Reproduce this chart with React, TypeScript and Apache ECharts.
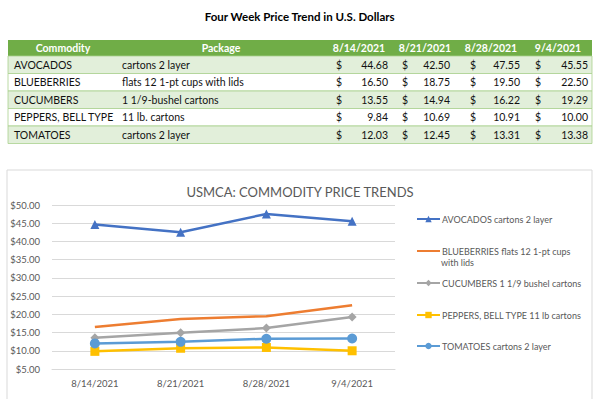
import React, { useEffect, useRef } from "react";
import * as echarts from "echarts";

const dates = ["8/14/2021", "8/21/2021", "8/28/2021", "9/4/2021"];
const commodities = ["AVOCADOS", "BLUEBERRIES", "CUCUMBERS", "PEPPERS, BELL TYPE", "TOMATOES"];
const packages = ["cartons 2 layer", "flats 12 1-pt cups with lids", "1 1/9-bushel cartons", "11 lb. cartons", "cartons 2 layer"];
const seriesNames = [
  "AVOCADOS cartons 2 layer",
  "BLUEBERRIES flats 12 1-pt cups with lids",
  "CUCUMBERS 1 1/9 bushel cartons",
  "PEPPERS, BELL TYPE 11 lb cartons",
  "TOMATOES cartons 2 layer",
];
const avocados = [44.68, 42.5, 47.55, 45.55];
const blueberries = [16.5, 18.75, 19.5, 22.5];
const cucumbers = [13.55, 14.94, 16.22, 19.29];
const peppers = [9.84, 10.69, 10.91, 10.0];
const tomatoes = [12.03, 12.45, 13.31, 13.38];
const values = [avocados, blueberries, cucumbers, peppers, tomatoes];

const colors = ["#4472C4", "#ED7D31", "#A5A5A5", "#FFC000", "#5B9BD5"];
const symbols = ["triangle", "none", "diamond", "rect", "circle"];
const symbolSizes = [9, 0, 9, 9, 10];
const legendTops = [219, 251, 283, 315, 346];

const FONT = "Lato, 'Open Sans', sans-serif";

export default function App() {
  const ref = useRef<HTMLDivElement>(null);
  useEffect(() => {
    if (!ref.current) return;
    const chart = echarts.init(ref.current, null, { renderer: "svg" });

    const g: any[] = [];
    g.push({
      type: "text",
      left: "center",
      top: 10,
      style: { text: "Four Week Price Trend in U.S. Dollars", font: `bold 11.5px ${FONT}`, fill: "#000" },
    });
    const tx0 = 8, tx1 = 592, hTop = 40, hBot = 56, rowH = 17.5;
    g.push({ type: "rect", shape: { x: tx0, y: hTop, width: tx1 - tx0, height: hBot - hTop }, style: { fill: "#70AD47" } });
    const dollarX = [339, 405, 473, 538];
    const valRightX = [388, 450, 520, 588];
    const dateCX = [359, 425, 491, 558];
    const hy = (hTop + hBot) / 2;
    g.push({ type: "text", x: 63, y: hy, style: { text: "Commodity", font: `bold 10.5px ${FONT}`, fill: "#fff", align: "center", verticalAlign: "middle" } });
    g.push({ type: "text", x: 221, y: hy, style: { text: "Package", font: `bold 10.5px ${FONT}`, fill: "#fff", align: "center", verticalAlign: "middle" } });
    dates.forEach((d, j) => {
      g.push({ type: "text", x: dateCX[j], y: hy, style: { text: d, font: `bold 10.5px ${FONT}`, fill: "#fff", align: "center", verticalAlign: "middle" } });
    });
    commodities.forEach((c, i) => {
      const top = hBot + i * rowH;
      const cy = top + rowH / 2;
      g.push({
        type: "rect",
        shape: { x: tx0, y: top, width: tx1 - tx0, height: rowH },
        style: { fill: i % 2 === 0 ? "#E2EFDA" : "#FFFFFF", stroke: "#A9D08E", lineWidth: 0.8 },
      });
      g.push({ type: "text", x: 14, y: cy, style: { text: c, font: `10.5px ${FONT}`, fill: "#111", verticalAlign: "middle" } });
      g.push({ type: "text", x: 122, y: cy, style: { text: packages[i], font: `10.5px ${FONT}`, fill: "#111", verticalAlign: "middle" } });
      values[i].forEach((v, j) => {
        g.push({ type: "text", x: dollarX[j], y: cy, style: { text: "$", font: `10.5px ${FONT}`, fill: "#111", align: "center", verticalAlign: "middle" } });
        g.push({ type: "text", x: valRightX[j], y: cy, style: { text: v.toFixed(2), font: `10.5px ${FONT}`, fill: "#111", align: "right", verticalAlign: "middle" } });
      });
    });
    g.push({ type: "rect", shape: { x: 7, y: 170, width: 585, height: 240 }, style: { fill: "none", stroke: "#D9D9D9", lineWidth: 1 } });
    g.push({ type: "text", x: 441, y: 262, style: { text: "with lids", font: `9px ${FONT}`, fill: "#595959", verticalAlign: "middle" } });

    const legends = seriesNames.map((n, i) => {
      const l: any = {
        data: [n],
        orient: "vertical",
        left: 416,
        top: legendTops[i] - 6,
        padding: 0,
        itemWidth: 23,
        itemHeight: 8,
        formatter: (name: string) =>
          name === seriesNames[1] ? "BLUEBERRIES flats 12 1-pt cups" : name,
        textStyle: {
          fontFamily: FONT,
          fontSize: 9,
          color: "#595959",
          lineHeight: 12,
          padding: [0, 0, 0, -3],
        },
      };
      if (symbols[i] === "none") l.itemStyle = { opacity: 0 };
      return l;
    });

    chart.setOption({
      animation: false,
      title: {
        text: "USMCA: COMMODITY PRICE TRENDS",
        left: "center",
        top: 180,
        textStyle: { fontFamily: FONT, fontSize: 13, fontWeight: "normal", color: "#595959" },
      },
      graphic: g,
      legend: legends,
      grid: { left: 52, right: 205, top: 205, bottom: 30 },
      xAxis: {
        type: "category",
        data: dates,
        boundaryGap: true,
        axisLine: { show: true, lineStyle: { color: "#D9D9D9" } },
        axisTick: { show: false },
        axisLabel: { fontFamily: FONT, fontSize: 9.5, color: "#595959", margin: 9 },
      },
      yAxis: {
        type: "value",
        min: 5,
        max: 50,
        interval: 5,
        axisLine: { show: false },
        axisTick: { show: false },
        splitLine: { lineStyle: { color: "#D9D9D9" } },
        axisLabel: {
          fontFamily: FONT,
          fontSize: 9.5,
          color: "#595959",
          margin: 12,
          formatter: (v: number) => "$" + v.toFixed(2),
        },
      },
      series: seriesNames.map((n, i) => ({
        name: n,
        type: "line",
        data: values[i],
        symbol: symbols[i],
        symbolSize: symbolSizes[i],
        showSymbol: symbols[i] !== "none",
        lineStyle: { width: 2.5, color: colors[i] },
        itemStyle: { color: colors[i] },
      })),
    });
    return () => chart.dispose();
  }, []);
  return <div ref={ref} style={{ position: "fixed", left: 0, top: 0, width: 600, height: 399, background: "#fff" }} />;
}
